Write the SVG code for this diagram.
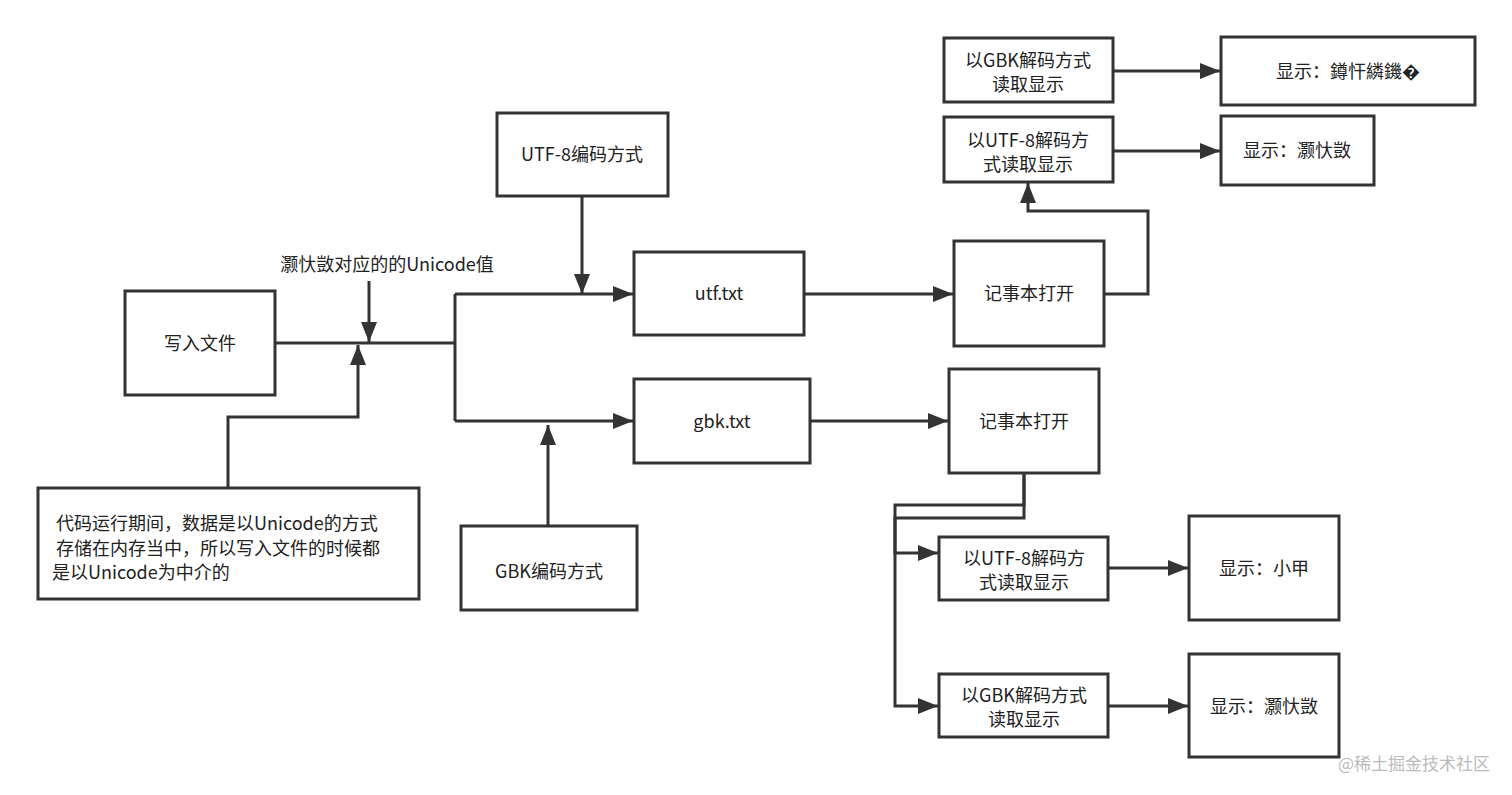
<svg xmlns="http://www.w3.org/2000/svg" width="1512" height="795" viewBox="0 0 1512 795">
<style>
rect{fill:#fff;stroke:#333;stroke-width:3}
text{font-family:"Noto Sans CJK SC","Liberation Sans",sans-serif;font-size:18px;fill:#222;text-anchor:middle}
.c path{fill:none;stroke:#333;stroke-width:3}
.l{text-anchor:start}
</style>
<defs><marker id="a" viewBox="0 0 20 16" refX="20" refY="8" markerWidth="20" markerHeight="16" markerUnits="userSpaceOnUse" orient="auto"><path d="M0,0L20,8L0,16z" fill="#333"/></marker></defs>
<rect x="0" y="0" width="1512" height="795" style="stroke:none"/>
<g class="c">
<path d="M275,343H455M455,294V421"/>
<path d="M455,294H633" marker-end="url(#a)"/>
<path d="M455,421H633" marker-end="url(#a)"/>
<path d="M369,281V342" marker-end="url(#a)"/>
<path d="M228,488V417H358V345" marker-end="url(#a)"/>
<path d="M582,196V294" marker-end="url(#a)"/>
<path d="M548,526V425" marker-end="url(#a)"/>
<path d="M804,294H953" marker-end="url(#a)"/>
<path d="M810,421H948" marker-end="url(#a)"/>
<path d="M1104,294H1148V211H1028V183" marker-end="url(#a)"/>
<path d="M1113,71H1220" marker-end="url(#a)"/>
<path d="M1113,151H1220" marker-end="url(#a)"/>
<path d="M1024,474V505H895V553H938" marker-end="url(#a)"/>
<path d="M1024,474V518H895V706H938" marker-end="url(#a)"/>
<path d="M1108,568H1188" marker-end="url(#a)"/>
<path d="M1108,706H1188" marker-end="url(#a)"/>
</g>
<text x="387" y="271">灏忕敳对应的的Unicode值</text>
<g id="write"><rect x="125" y="291" width="150" height="104"/><text x="200" y="350">写入文件</text></g>
<g id="note"><rect x="38" y="488" width="381" height="111"/><text class="l" x="56" y="530">代码运行期间，数据是以Unicode的方式</text><text class="l" x="56" y="555">存储在内存当中，所以写入文件的时候都</text><text class="l" x="52" y="579">是以Unicode为中介的</text></g>
<g id="utf8enc"><rect x="497" y="113" width="171" height="83"/><text x="582" y="161">UTF-8编码方式</text></g>
<g id="gbkenc"><rect x="461" y="526" width="176" height="84"/><text x="549" y="578">GBK编码方式</text></g>
<g id="utftxt"><rect x="634" y="252" width="170" height="83"/><text x="719" y="300">utf.txt</text></g>
<g id="gbktxt"><rect x="634" y="379" width="176" height="84"/><text x="722" y="428">gbk.txt</text></g>
<g id="np1"><rect x="954" y="241" width="150" height="105"/><text x="1029" y="300">记事本打开</text></g>
<g id="np2"><rect x="949" y="369" width="150" height="104"/><text x="1024" y="428">记事本打开</text></g>
<g id="gbk1"><rect x="944" y="38" width="169" height="64"/><text x="1028" y="67">以GBK解码方式</text><text x="1028" y="91">读取显示</text></g>
<g id="r1"><rect x="1221" y="37" width="254" height="68"/><text x="1348" y="78">显示：鐏忓繗鐖�</text></g>
<g id="utf1"><rect x="944" y="117" width="169" height="65"/><text x="1028" y="147">以UTF-8解码方</text><text x="1028" y="171">式读取显示</text></g>
<g id="r2"><rect x="1221" y="116" width="153" height="69"/><text x="1297" y="157">显示：灏忕敳</text></g>
<g id="utf2"><rect x="939" y="537" width="169" height="63"/><text x="1024" y="565">以UTF-8解码方</text><text x="1024" y="589">式读取显示</text></g>
<g id="r3"><rect x="1189" y="516" width="150" height="104"/><text x="1264" y="575">显示：小甲</text></g>
<g id="gbk2"><rect x="939" y="674" width="169" height="63"/><text x="1024" y="702">以GBK解码方式</text><text x="1024" y="726">读取显示</text></g>
<g id="r4"><rect x="1189" y="654" width="150" height="103"/><text x="1264" y="713">显示：灏忕敳</text></g>
<text x="1490" y="770" style="text-anchor:end;fill:#bbb;font-size:17px">@稀土掘金技术社区</text>
</svg>
